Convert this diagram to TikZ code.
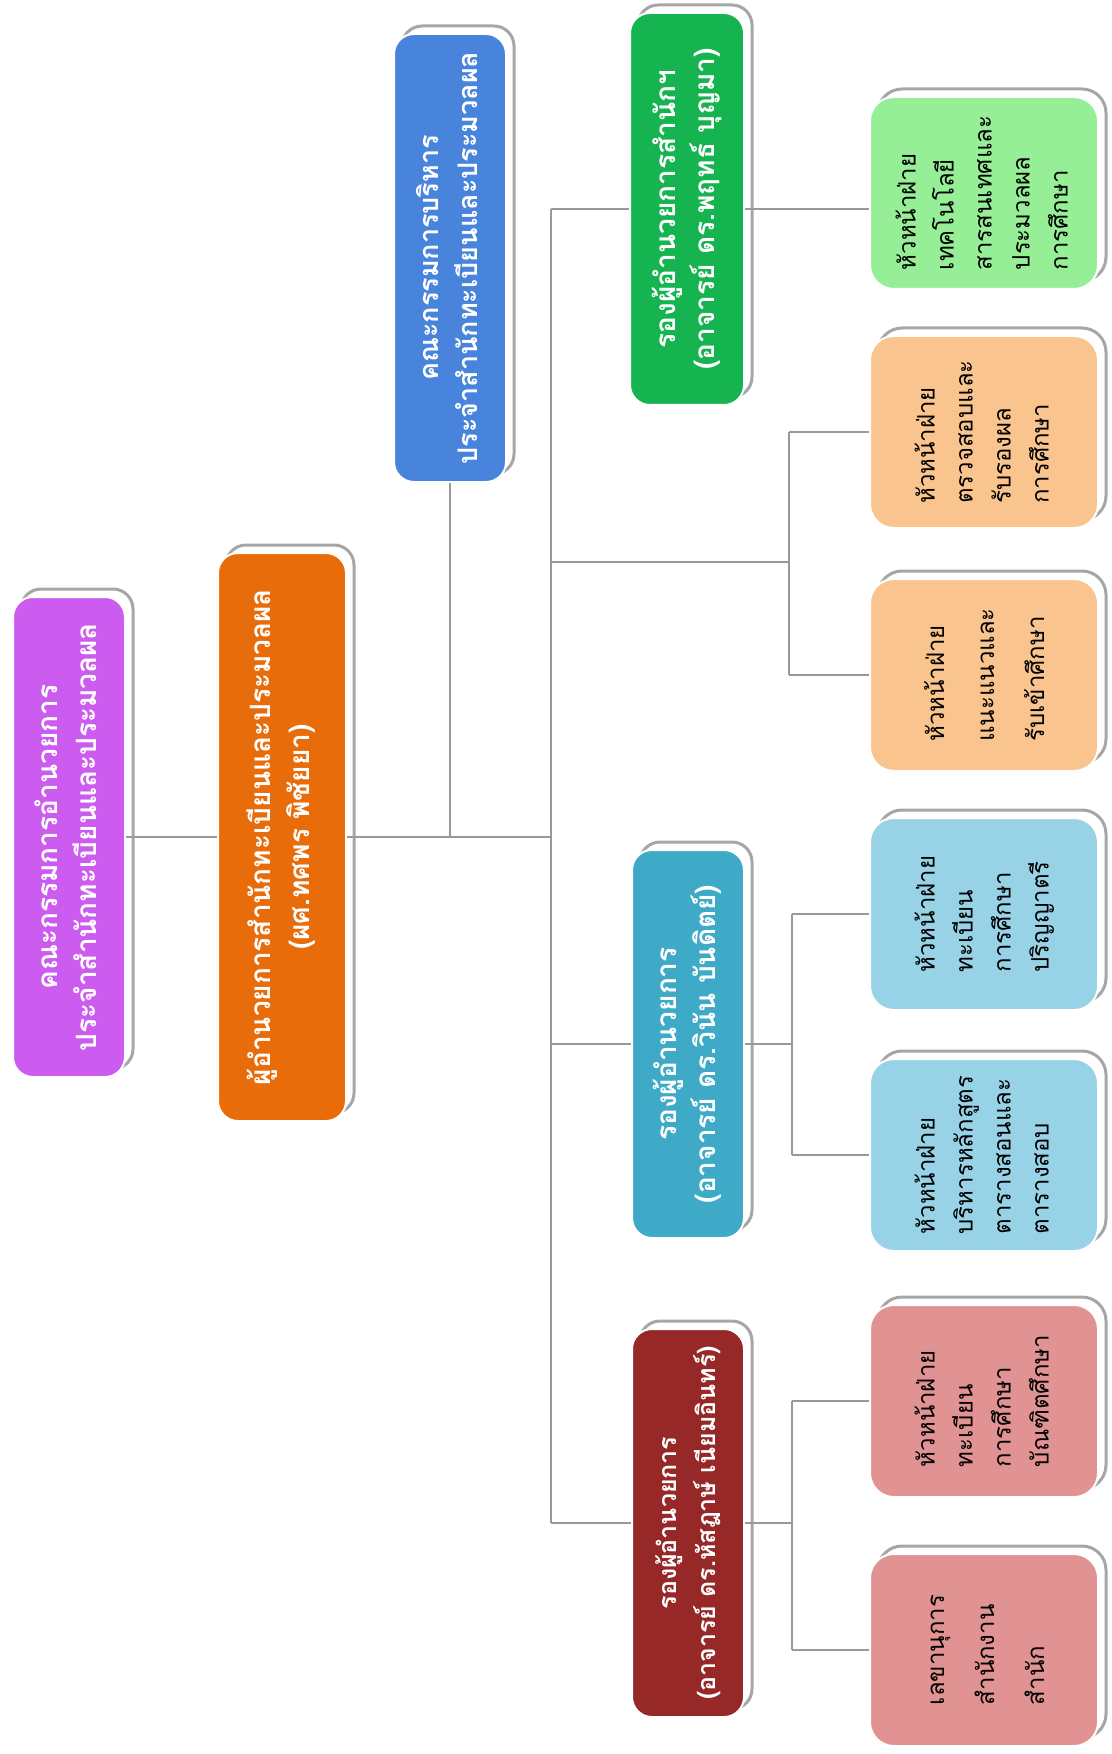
\documentclass[tikz,border=0pt]{standalone}
\usepackage{fontspec}
\usepackage{graphicx}
\usetikzlibrary{shadows}
\newfontfamily\thai[Script=Thai]{Loma}
\newcommand{\vtxt}[2][c]{\rotatebox{90}{\begin{tabular}{@{}#1@{}}#2\end{tabular}}}

\begin{document}
\begin{tikzpicture}[x=0.5pt,y=-0.5pt,
  box/.style={rectangle, rounded corners=10pt, draw=white, line width=1pt, inner sep=0pt,
    copy shadow={shadow xshift=4pt, shadow yshift=4pt, fill=white, draw=gray!70, line width=1.5pt}},
  headbox/.style={box, text=white, font=\thai\fontsize{14}{19.5}\selectfont\bfseries},
  leafbox/.style={box, rounded corners=12pt, minimum width=114pt, minimum height=96pt,
    text=black, font=\thai\fontsize{12}{19}\selectfont},
  link/.style={draw=gray!80, line width=0.7pt}]
\definecolor{cPur}{RGB}{204,92,240}
\definecolor{cOrg}{RGB}{232,108,10}
\definecolor{cBlu}{RGB}{72,132,220}
\definecolor{cGrn}{RGB}{22,180,80}
\definecolor{cCyn}{RGB}{62,170,200}
\definecolor{cRed}{RGB}{150,40,40}
\definecolor{cLgr}{RGB}{150,238,150}
\definecolor{cPch}{RGB}{250,196,142}
\definecolor{cLbl}{RGB}{152,210,230}
\definecolor{cPnk}{RGB}{225,146,146}
\useasboundingbox (0,0) rectangle (1112,1754);

\node[headbox, fill=cPur, minimum width=56pt, minimum height=240pt] (pur) at (69,837)
  {\vtxt{คณะกรรมการอำนวยการ\\ประจำสำนักทะเบียนและประมวลผล}};
\node[headbox, fill=cOrg, minimum width=64pt, minimum height=284pt] (org) at (282,837)
  {\vtxt{ผู้อำนวยการสำนักทะเบียนและประมวลผล\\(ผศ.ทศพร  พิชัยยา)}};
\node[headbox, fill=cBlu, minimum width=56pt, minimum height=224pt,
  font=\thai\fontsize{13.5}{19.5}\selectfont\bfseries] (blu) at (450,258)
  {\vtxt{คณะกรรมการบริหาร\\ประจำสำนักทะเบียนและประมวลผล}};
\node[headbox, fill=cGrn, minimum width=57pt, minimum height=196pt] (grn) at (687,209)
  {\vtxt{รองผู้อำนวยการสำนักฯ\\(อาจารย์ ดร.พฤทธ์  บุญมา)}};
\node[headbox, fill=cCyn, minimum width=56pt, minimum height=194pt] (cyn) at (688,1044)
  {\vtxt{รองผู้อำนวยการ\\(อาจารย์ ดร.วินัน  บันดิตย์)}};
\node[headbox, fill=cRed, minimum width=56pt, minimum height=194pt,
  font=\thai\fontsize{12.5}{19.5}\selectfont\bfseries] (red) at (688,1523)
  {\vtxt{รองผู้อำนวยการ\\(อาจารย์ ดร.หัสฎาษ์  เนียมอินทร์)}};

\node[leafbox, fill=cLgr] (lg) at (984,193)
  {\vtxt[l]{หัวหน้าฝ่าย\\เทคโนโลยี\\สารสนเทศและ\\ประมวลผล\\การศึกษา}};
\node[leafbox, fill=cPch] (pa) at (984,432)
  {\vtxt[l]{หัวหน้าฝ่าย\\ตรวจสอบและ\\รับรองผล\\การศึกษา}};
\node[leafbox, fill=cPch, font=\thai\fontsize{12}{25}\selectfont] (pb) at (984,675)
  {\vtxt[l]{หัวหน้าฝ่าย\\แนะแนวและ\\รับเข้าศึกษา}};
\node[leafbox, fill=cLbl] (ba) at (984,914)
  {\vtxt[l]{หัวหน้าฝ่าย\\ทะเบียน\\การศึกษา\\ปริญญาตรี}};
\node[leafbox, fill=cLbl] (bb) at (984,1155)
  {\vtxt[l]{หัวหน้าฝ่าย\\บริหารหลักสูตร\\ตารางสอนและ\\ตารางสอบ}};
\node[leafbox, fill=cPnk] (ka) at (984,1401)
  {\vtxt[l]{หัวหน้าฝ่าย\\ทะเบียน\\การศึกษา\\บัณฑิตศึกษา}};
\node[leafbox, fill=cPnk, font=\thai\fontsize{12}{25}\selectfont] (kb) at (984,1650)
  {\vtxt[l]{เลขานุการ\\สำนักงาน\\สำนัก}};

\coordinate (tk) at (551,837);
\coordinate (pj) at (789,562);
\coordinate (cj) at (792,1044);
\coordinate (rj) at (792,1523);

\draw[link] (pur.east) -- (org.west);
\draw[link] (org.east) -- (tk);
\draw[link] (blu.south) -- (blu.south |- tk);
\draw[link] (tk |- grn.west) -- (tk |- red.west);
\draw[link] (tk |- grn.west) -- (grn.west);
\draw[link] (grn.east) -- (grn.east -| lg.west);
\draw[link] (tk |- pj) -- (pj);
\draw[link] (pj |- pa.west) -- (pj |- pb.west);
\draw[link] (pj |- pa.west) -- (pa.west);
\draw[link] (pj |- pb.west) -- (pb.west);
\draw[link] (tk |- cyn.west) -- (cyn.west);
\draw[link] (cyn.east) -- (cj);
\draw[link] (cj |- ba.west) -- (cj |- bb.west);
\draw[link] (cj |- ba.west) -- (ba.west);
\draw[link] (cj |- bb.west) -- (bb.west);
\draw[link] (tk |- red.west) -- (red.west);
\draw[link] (red.east) -- (rj);
\draw[link] (rj |- ka.west) -- (rj |- kb.west);
\draw[link] (rj |- ka.west) -- (ka.west);
\draw[link] (rj |- kb.west) -- (kb.west);
\end{tikzpicture}
\end{document}
